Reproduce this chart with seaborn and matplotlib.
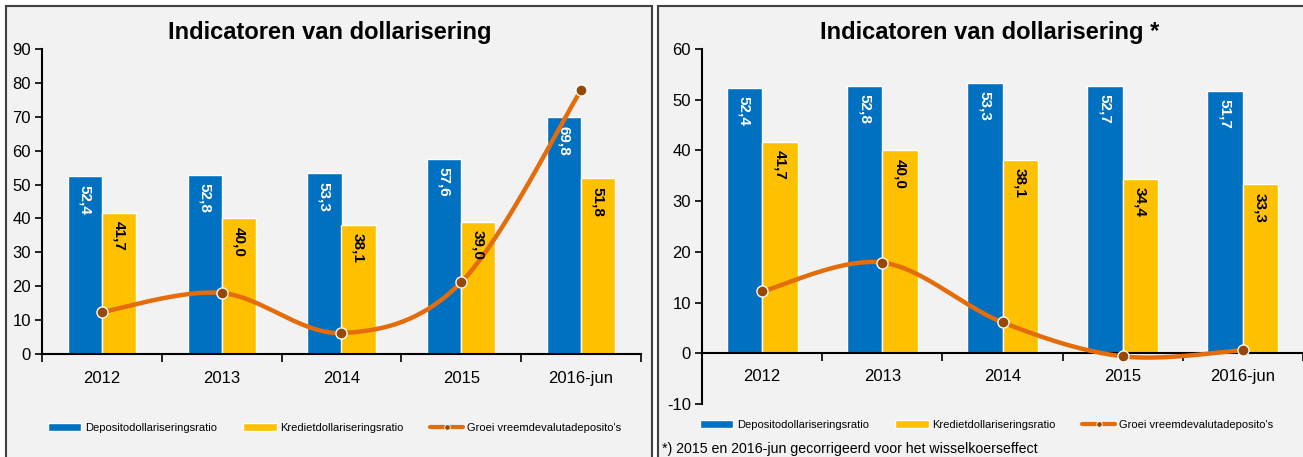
import numpy as np
import pandas as pd
import seaborn as sns
import matplotlib.pyplot as plt
from matplotlib.patches import Rectangle, Patch
from matplotlib.lines import Line2D

# data
jaren = ["2012", "2013", "2014", "2015", "2016-jun"]
reeksen = ["Depositodollariseringsratio", "Kredietdollariseringsratio"]
lijn_naam = "Groei vreemdevalutadeposito's"

deposito_l = [52.4, 52.8, 53.3, 57.6, 69.8]
krediet_l = [41.7, 40.0, 38.1, 39.0, 51.8]
groei_l = [12.4, 18.0, 6.2, 21.2, 77.9]

deposito_r = [52.4, 52.8, 53.3, 52.7, 51.7]
krediet_r = [41.7, 40.0, 38.1, 34.4, 33.3]
groei_r = [12.2, 17.9, 6.1, -0.6, 0.6]

titel_l = "Indicatoren van dollarisering"
titel_r = "Indicatoren van dollarisering *"
voetnoot = "*) 2015 en 2016-jun gecorrigeerd voor het wisselkoerseffect"

BLAUW = "#0070C0"
GEEL = "#FFC000"
ORANJE = "#E46C0A"
BRUIN = "#974806"
PANEEL = "#F2F2F2"

sns.set_theme(style="ticks")
plt.rcParams["font.family"] = ["Liberation Sans", "DejaVu Sans"]
plt.rcParams["text.color"] = "black"
plt.rcParams["xtick.color"] = "black"
plt.rcParams["ytick.color"] = "black"
plt.rcParams["axes.unicode_minus"] = False


def smooth(y, n=40):
    # bezier smoothing like a spreadsheet "smoothed line"
    x = np.arange(len(y), dtype=float)
    y = np.asarray(y, dtype=float)
    xs, ys = [], []
    for i in range(len(y) - 1):
        p0 = np.array([x[max(i - 1, 0)], y[max(i - 1, 0)]])
        p1 = np.array([x[i], y[i]])
        p2 = np.array([x[i + 1], y[i + 1]])
        p3 = np.array([x[min(i + 2, len(y) - 1)], y[min(i + 2, len(y) - 1)]])
        c1 = p1 + (p2 - p0) / 6
        c2 = p2 - (p3 - p1) / 6
        t = np.linspace(0, 1, n)[:, None]
        pts = (1 - t) ** 3 * p1 + 3 * (1 - t) ** 2 * t * c1 + 3 * (1 - t) * t ** 2 * c2 + t ** 3 * p2
        xs.extend(pts[:, 0])
        ys.extend(pts[:, 1])
    return xs, ys


def draw(ax, dep, kre, groei, ymin, ymax, width):
    df = pd.DataFrame({
        "jaar": jaren * 2,
        "reeks": [reeksen[0]] * 5 + [reeksen[1]] * 5,
        "waarde": dep + kre,
    })
    sns.barplot(data=df, x="jaar", y="waarde", hue="reeks", palette=[BLAUW, GEEL],
                saturation=1, width=width, legend=False, ax=ax, zorder=2)
    xs, ys = smooth(groei)
    ax.plot(xs, ys, color=ORANJE, lw=3.2, zorder=3, solid_capstyle="round")
    ax.plot(range(len(groei)), groei, ls="none", marker="o", ms=8, mfc=BRUIN,
            mec="white", mew=1, zorder=4)

    for cont, kleur in zip(ax.containers, ["white", "black"]):
        for bar in cont:
            h = bar.get_height()
            ax.annotate(f"{h:.1f}".replace(".", ","), (bar.get_x() + bar.get_width() / 2, h),
                        xytext=(0, -6), textcoords="offset points", rotation=270,
                        ha="center", va="top", color=kleur, fontsize=11,
                        fontweight="bold", zorder=5)

    ax.set_facecolor("none")
    ax.set_ylim(ymin, ymax)
    ax.set_yticks(np.arange(ymin, ymax + 1, 10))
    ax.set_xlim(-0.5, 4.5)
    ax.set_xlabel("")
    ax.set_ylabel("")
    ax.set_xticks(np.arange(-0.5, 5, 1), minor=True)
    ax.tick_params(axis="x", which="major", length=0, labelsize=12, pad=12)
    ax.tick_params(axis="x", which="minor", length=6, width=1.2, color="black")
    ax.tick_params(axis="y", length=5, width=1.2, labelsize=12, color="black", pad=3)
    for s in ["top", "right"]:
        ax.spines[s].set_visible(False)
    for s in ["left", "bottom"]:
        ax.spines[s].set_color("black")
        ax.spines[s].set_linewidth(1.5)


fig = plt.figure(figsize=(13.03, 4.57), dpi=100)
fig.patch.set_facecolor("white")
fig.patches.append(Rectangle((5.5 / 1303, -0.02), 646 / 1303, 1.0 - 6 / 457 + 0.02,
                             transform=fig.transFigure, facecolor=PANEEL,
                             edgecolor="#404040", lw=1.5, zorder=-1))
fig.patches.append(Rectangle((657.5 / 1303, -0.02), 0.6, 1.0 - 6 / 457 + 0.02,
                             transform=fig.transFigure, facecolor=PANEEL,
                             edgecolor="#404040", lw=1.5, zorder=-1))

ax1 = fig.add_axes([42 / 1303, 1 - 354 / 457, 599 / 1303, 305 / 457])
draw(ax1, deposito_l, krediet_l, groei_l, 0, 90, 0.57)

ax2 = fig.add_axes([702 / 1303, 1 - 404 / 457, 601 / 1303, 355 / 457])
draw(ax2, deposito_r, krediet_r, groei_r, -10, 60, 0.59)
ax2.spines["bottom"].set_position(("data", 0))
ax2.tick_params(axis="x", which="major", pad=11)

fig.text(330 / 1303, 1 - 32 / 457, titel_l, ha="center", va="center",
         fontsize=17, fontweight="bold")
fig.text(990 / 1303, 1 - 32 / 457, titel_r, ha="center", va="center",
         fontsize=17, fontweight="bold")

handles = [Patch(facecolor=BLAUW), Patch(facecolor=GEEL),
           Line2D([], [], color=ORANJE, lw=3, marker="o", ms=4, mfc=BRUIN, mec="white", mew=0.6)]
labels = reeksen + [lijn_naam]
for x0, y0 in [(38 / 1303, 1 - 428 / 457), (690 / 1303, 1 - 425 / 457)]:
    fig.legend(handles, labels, loc="center left", bbox_to_anchor=(x0, y0), ncol=3,
               frameon=False, fontsize=8, handlelength=3.0, handleheight=0.7,
               columnspacing=2.35, handletextpad=0.35, numpoints=1)

fig.text(662 / 1303, 1 - 449 / 457, voetnoot, ha="left", va="center", fontsize=10.2)

fig.savefig("out.png", dpi=100)
